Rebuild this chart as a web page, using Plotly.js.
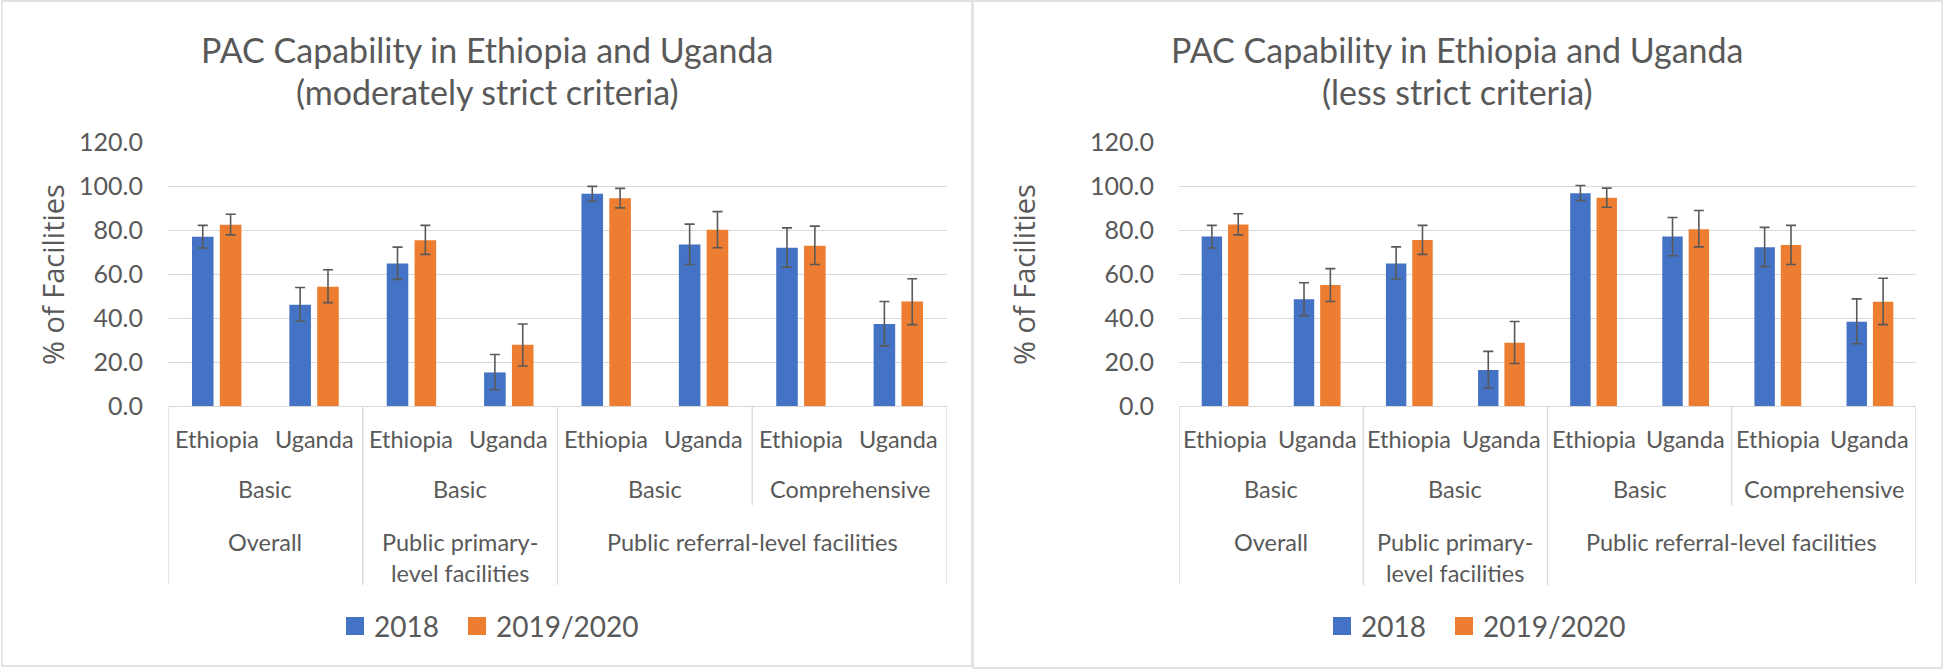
<!DOCTYPE html>
<html><head><meta charset="utf-8">
<script src="https://cdn.plot.ly/plotly-3.0.1.min.js"></script>
<style>html,body{margin:0;padding:0;background:#fff;}#chart{width:1943px;height:670px;}</style>
</head><body><div id="chart"></div>
<script>
// ---- data ----
const countries = ['Ethiopia','Uganda','Ethiopia','Uganda','Ethiopia','Uganda','Ethiopia','Uganda'];
const criteria = ['Basic','Basic','Basic','Comprehensive'];           // one per country pair
const facilityGroups = ['Overall','Public primary-<br>level facilities','Public referral-level facilities'];
const facilitySpans = [1,1,2];                                        // number of country pairs in each group
const seriesNames = ['2018','2019/2020'];
const panelTitles = ['PAC Capability in Ethiopia and Uganda','(moderately strict criteria)',
                     'PAC Capability in Ethiopia and Uganda','(less strict criteria)'];
const yTitle = '% of Facilities';

// moderately strict
const mod2018   = [77.1, 46.2, 65.0, 15.3, 96.7, 73.6, 72.1, 37.4];
const mod2018Hi = [82.3, 54.0, 72.4, 23.5, 100.1, 82.9, 81.2, 47.6];
const mod2018Lo = [72.0, 38.6, 57.7,  7.4, 93.3, 64.5, 63.3, 27.4];
const mod2020   = [82.6, 54.4, 75.5, 27.9, 94.7, 80.3, 73.0, 47.6];
const mod2020Hi = [87.4, 62.1, 82.3, 37.4, 99.2, 88.6, 82.0, 58.0];
const mod2020Lo = [78.0, 47.1, 69.1, 18.2, 90.3, 72.1, 64.5, 37.1];
// less strict
const less2018   = [77.3, 48.6, 65.0, 16.4, 97.0, 77.3, 72.3, 38.4];
const less2018Hi = [82.3, 56.2, 72.5, 24.9, 100.5, 85.9, 81.4, 48.8];
const less2018Lo = [72.0, 41.2, 57.9,  8.2, 93.6, 68.5, 63.5, 28.4];
const less2020   = [82.7, 55.2, 75.6, 28.8, 94.9, 80.6, 73.4, 47.5];
const less2020Hi = [87.6, 62.6, 82.3, 38.5, 99.3, 89.1, 82.3, 58.2];
const less2020Lo = [78.0, 47.6, 69.1, 19.4, 90.6, 72.5, 64.5, 37.1];

// ---- styling ----
const W = 1943, H = 670;
const BLUE = '#4472C4', ORANGE = '#ED7D31', TXT = '#595959', GRID = '#d9d9d9';
const FONT = 'Lato, "Open Sans", sans-serif';
const px = x => x / W, py = y => 1 - y / H;

const xIdx = countries.map((_, i) => i);
function barTrace(name, vals, hi, lo, color, xa, ya) {
  return {
    type: 'bar', name, x: xIdx, y: vals, xaxis: xa, yaxis: ya,
    marker: { color, line: { width: 0 } }, showlegend: false, hoverinfo: 'y',
    error_y: { type: 'data', symmetric: false,
      array: hi.map((h, i) => h - vals[i]), arrayminus: lo.map((l, i) => vals[i] - l),
      color: '#595959', thickness: 1.6, width: 5 }
  };
}
const data = [
  barTrace(seriesNames[0], mod2018, mod2018Hi, mod2018Lo, BLUE, 'x', 'y'),
  barTrace(seriesNames[1], mod2020, mod2020Hi, mod2020Lo, ORANGE, 'x', 'y'),
  barTrace(seriesNames[0], less2018, less2018Hi, less2018Lo, BLUE, 'x2', 'y2'),
  barTrace(seriesNames[1], less2020, less2020Hi, less2020Lo, ORANGE, 'x2', 'y2'),
];

const panels = [
  { xa: 'x', plotL: 168, plotR: 947, frame: [2, 1, 972, 666], yTitleX: 52, legendX: 346 },
  { xa: 'x2', plotL: 1179, plotR: 1916, frame: [973, 1, 1942, 668], yTitleX: 1023, legendX: 1333 },
];
const yTop = 142.7, yBot = 406;

const xAxisBase = { type: 'linear', range: [-0.5, countries.length - 0.5], showgrid: false, zeroline: false,
  showticklabels: false, ticks: '', showline: true, linecolor: GRID, linewidth: 1.3, fixedrange: true };
const yAxisBase = { range: [0, 120], dtick: 20, tickformat: '.1f', showgrid: true, gridcolor: GRID, gridwidth: 1.3,
  zeroline: false, showline: false, ticks: '', ticklabelstandoff: 24,
  tickfont: { family: FONT, size: 25, color: TXT }, fixedrange: true,
  domain: [py(yBot), py(yTop)] };

const annotations = [], shapes = [];
panels.forEach((p, k) => {
  const cx = (p.frame[0] + p.frame[2]) / 2;
  // frame
  shapes.push({ type: 'rect', xref: 'paper', yref: 'paper', x0: px(p.frame[0]), x1: px(p.frame[2]),
    y0: py(p.frame[3]), y1: py(p.frame[1]), line: { color: GRID, width: 1.3 } });
  // titles
  annotations.push({ xref: 'paper', yref: 'paper', x: px(cx), y: py(49), xanchor: 'center', yanchor: 'middle',
    text: panelTitles[2 * k], showarrow: false, font: { family: FONT, size: 34, color: TXT } });
  annotations.push({ xref: 'paper', yref: 'paper', x: px(cx), y: py(92), xanchor: 'center', yanchor: 'middle',
    text: panelTitles[2 * k + 1], showarrow: false, font: { family: FONT, size: 34, color: TXT } });
  // y title
  annotations.push({ xref: 'paper', yref: 'paper', x: px(p.yTitleX), y: py(275), xanchor: 'center', yanchor: 'middle',
    text: yTitle, textangle: -90, showarrow: false, font: { family: '"Open Sans", sans-serif', size: 29, color: TXT } });
  // country labels
  countries.forEach((c, i) => annotations.push({ xref: p.xa, yref: 'paper', x: i, y: py(439), xanchor: 'center',
    yanchor: 'middle', text: c, showarrow: false, font: { family: FONT, size: 23.5, color: TXT } }));
  // criteria labels
  criteria.forEach((c, j) => annotations.push({ xref: p.xa, yref: 'paper', x: 2 * j + 0.5, y: py(489), xanchor: 'center',
    yanchor: 'middle', text: c, showarrow: false, font: { family: FONT, size: 23.5, color: TXT } }));
  // facility labels + dividers
  let start = 0;
  const bigBounds = [-0.5];
  facilityGroups.forEach((f, j) => {
    const n = facilitySpans[j] * 2;
    annotations.push({ xref: p.xa, yref: 'paper', x: start + (n - 1) / 2, y: py(526), xanchor: 'center',
      yanchor: 'top', text: f, showarrow: false, font: { family: FONT, size: 23.5, color: TXT } });
    start += n;
    bigBounds.push(start - 0.5);
  });
  for (let b = -0.5; b <= countries.length - 0.5; b += 2) {
    const big = bigBounds.includes(b);
    shapes.push({ type: 'line', xref: p.xa, yref: 'paper', x0: b, x1: b, y0: py(yBot), y1: py(big ? 585 : 505),
      line: { color: GRID, width: 1.3 } });
  }
  // legend
  const lx = p.legendX;
  [[BLUE, seriesNames[0], lx], [ORANGE, seriesNames[1], lx + 122]].forEach(([col, name, x]) => {
    shapes.push({ type: 'rect', xref: 'paper', yref: 'paper', x0: px(x), x1: px(x + 18), y0: py(635), y1: py(617),
      fillcolor: col, line: { width: 0 } });
    annotations.push({ xref: 'paper', yref: 'paper', x: px(x + 26), y: py(626), xanchor: 'left', yanchor: 'middle',
      text: name, showarrow: false, font: { family: FONT, size: 28, color: TXT } });
  });
});

const layout = {
  width: W, height: H, margin: { l: 0, r: 0, t: 0, b: 0 },
  paper_bgcolor: '#fff', plot_bgcolor: '#fff',
  barmode: 'group', bargap: 0.428, bargroupgap: 0.225,
  showlegend: false,
  xaxis: Object.assign({}, xAxisBase, { domain: [px(168), px(947)], anchor: 'y' }),
  yaxis: Object.assign({}, yAxisBase, { anchor: 'x' }),
  xaxis2: Object.assign({}, xAxisBase, { domain: [px(1179), px(1916)], anchor: 'y2' }),
  yaxis2: Object.assign({}, yAxisBase, { anchor: 'x2' }),
  annotations, shapes,
};
Plotly.newPlot('chart', data, layout, { displayModeBar: false, responsive: false });
</script></body></html>
